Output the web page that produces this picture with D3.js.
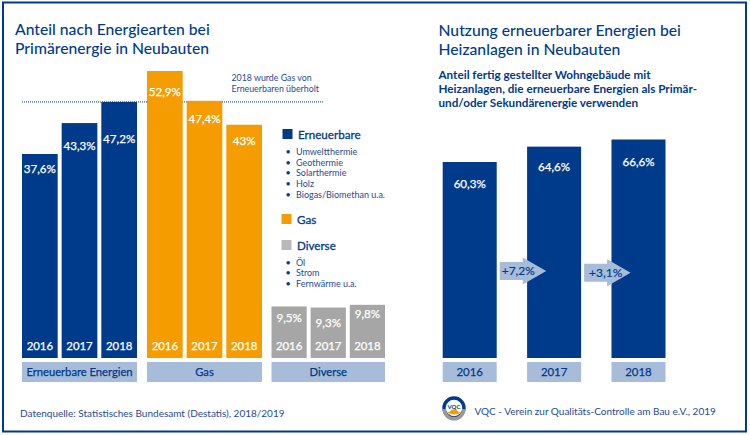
<!DOCTYPE html>
<html>
<head>
<meta charset="utf-8">
<style>
  html, body { margin: 0; padding: 0; background: #fff; }
  svg { display: block; font-family: Lato, sans-serif; }
</style>
</head>
<body>
<div id="chartContainer"></div>
<script src="https://d3js.org/d3.v7.min.js"></script>
<script>
// Data
var years = ["2016", "2017", "2018"];
var erneuerbareValues = [37.6, 43.3, 47.2];
var gasValues = [52.9, 47.4, 43];
var diverseValues = [9.5, 9.3, 9.8];
var groupNames = ["Erneuerbare Energien", "Gas", "Diverse"];
var heizungValues = [60.3, 64.6, 66.6];
var heizungChanges = ["+7,2%", "+3,1%"];
var erneuerbareItems = ["Umweltthermie", "Geothermie", "Solarthermie", "Holz", "Biogas/Biomethan u.a."];
var diverseItems = ["Öl", "Strom", "Fernwärme u.a."];

var blue = "#003a8a", orange = "#f59c00", grey = "#a6a6a6", pale = "#a7bcd9", textBlue = "#1f4a92";

var svg = d3.select("#chartContainer").append("svg").attr("width", 750).attr("height", 435);

// outer frame
svg.append("rect").attr("x", 3).attr("y", 2.5).attr("width", 743).attr("height", 429)
  .attr("fill", "#fff").attr("stroke", blue).attr("stroke-width", 2);

// Lato has no medium cut, so a hairline stroke stands in for it
function medium(sel, color, width) {
  return sel.attr("fill", color).attr("stroke", color).attr("stroke-width", width || 0.25);
}

function addLines(lines, x, y, step, size, color, weight) {
  lines.forEach(function (t, i) {
    svg.append("text").attr("x", x).attr("y", y + i * step)
      .attr("font-size", size).attr("fill", color).attr("font-weight", weight || 400).text(t);
  });
}

// headings
addLines(["Anteil nach Energiearten bei", "Primärenergie in Neubauten"], 15, 35, 18.5, 15.7, blue, 500);
addLines(["Nutzung erneuerbarer Energien bei", "Heizanlagen in Neubauten"], 438.5, 36, 18.5, 15.7, blue, 500);
addLines(["Anteil fertig gestellter Wohngebäude mit", "Heizanlagen, die erneuerbare Energien als Primär-", "und/oder Sekundärenergie verwenden"],
  438.5, 79, 14, 11.7, blue, 700);

// left chart scales
var yLeft = d3.scaleLinear().domain([0, 52.9]).range([358, 71]);

// labelDrop: how far each value label hangs below the top of its bar
var groups = [
  { name: groupNames[0], values: erneuerbareValues, color: blue, x0: 22, x1: 137, labelDrop: [19, 27, 41] },
  { name: groupNames[1], values: gasValues, color: orange, x0: 147, x1: 262, labelDrop: [25, 22.5, 20] },
  { name: groupNames[2], values: diverseValues, color: grey, x0: 271.5, x1: 385, labelDrop: [16, 19, 13] }
];

// dotted line behind the bars
svg.append("line").attr("x1", 22).attr("x2", 324).attr("y1", yLeft(47.2)).attr("y2", yLeft(47.2))
  .attr("stroke", blue).attr("stroke-width", 1).attr("stroke-dasharray", "1 1");

addLines(["2018 wurde Gas von", "Erneuerbaren überholt"], 231.5, 81, 11, 8.8, textBlue);

groups.forEach(function (g) {
  var x = d3.scaleBand().domain(years).range([g.x0, g.x1]).paddingInner(0.1);
  var data = years.map(function (y, i) { return { year: y, value: g.values[i], drop: g.labelDrop[i] }; });
  var bar = svg.append("g").selectAll("g").data(data).enter().append("g");

  bar.append("rect")
    .attr("x", function (d) { return x(d.year); })
    .attr("y", function (d) { return yLeft(d.value); })
    .attr("width", x.bandwidth())
    .attr("height", function (d) { return yLeft(0) - yLeft(d.value); })
    .attr("fill", g.color);

  bar.append("text")
    .attr("x", function (d) { return x(d.year) + x.bandwidth() / 2; })
    .attr("y", function (d) { return yLeft(d.value) + d.drop; })
    .attr("text-anchor", "middle").attr("font-size", 11.6).call(medium, "#fff")
    .text(function (d) { return String(d.value).replace(".", ",") + "%"; });

  bar.append("text")
    .attr("x", function (d) { return x(d.year) + x.bandwidth() / 2; })
    .attr("y", 349.5)
    .attr("text-anchor", "middle").attr("font-size", 11.4).call(medium, "#fff")
    .text(function (d) { return d.year; });

  svg.append("rect").attr("x", g.x0).attr("y", 362).attr("width", g.x1 - g.x0).attr("height", 20).attr("fill", pale);
  svg.append("text").attr("x", (g.x0 + g.x1) / 2).attr("y", 375.5).attr("text-anchor", "middle")
    .attr("font-size", 11.2).call(medium, blue).text(g.name);
});

// legend
function legendEntry(label, color, x, y) {
  svg.append("rect").attr("x", x).attr("y", y).attr("width", 10).attr("height", 10).attr("fill", color);
  svg.append("text").attr("x", x + 15.5).attr("y", y + 9.5).attr("font-size", 11.6).call(medium, blue, 0.3).text(label);
}
function legendList(items, y) {
  items.forEach(function (t, i) {
    svg.append("text").attr("x", 285.5).attr("y", y + i * 10.7).attr("font-size", 9).attr("fill", blue).text("•");
    svg.append("text").attr("x", 296).attr("y", y + i * 10.7).attr("font-size", 9).attr("fill", textBlue).text(t);
  });
}
legendEntry("Erneuerbare", blue, 282.5, 129);
legendList(erneuerbareItems, 155);
legendEntry("Gas", orange, 281.5, 214);
legendEntry("Diverse", "#b9b9b9", 281.5, 240);
legendList(diverseItems, 265.5);

addLines(["Datenquelle: Statistisches Bundesamt (Destatis), 2018/2019"], 20, 417, 0, 10, textBlue);

// right chart
var xRight = d3.scaleBand().domain(years).range([442.7, 665.5]).paddingInner(0.36);
var yRight = d3.scaleLinear().domain([5.4, 66.6]).range([358, 139.5]);

var rightData = years.map(function (y, i) { return { year: y, value: heizungValues[i] }; });
var rightBar = svg.append("g").selectAll("g").data(rightData).enter().append("g");

rightBar.append("rect")
  .attr("x", function (d) { return xRight(d.year); })
  .attr("y", function (d) { return yRight(d.value); })
  .attr("width", xRight.bandwidth())
  .attr("height", function (d) { return yRight.range()[0] - yRight(d.value); })
  .attr("fill", blue);

rightBar.append("text")
  .attr("x", function (d) { return xRight(d.year) + xRight.bandwidth() / 2; })
  .attr("y", function (d, i) { return yRight(d.value) + [26, 24, 26][i]; })
  .attr("text-anchor", "middle").attr("font-size", 11.6).call(medium, "#fff")
  .text(function (d) { return String(d.value).replace(".", ",") + "%"; });

rightBar.append("rect")
  .attr("x", function (d) { return xRight(d.year); })
  .attr("y", 362).attr("width", xRight.bandwidth()).attr("height", 20).attr("fill", pale);

rightBar.append("text")
  .attr("x", function (d) { return xRight(d.year) + xRight.bandwidth() / 2; })
  .attr("y", 375.5).attr("text-anchor", "middle")
  .attr("font-size", 11.4).call(medium, blue)
  .text(function (d) { return d.year; });

// change arrows sit on the gap between two bars and overlap the next bar
heizungChanges.forEach(function (label, i) {
  var left = xRight(years[i]) + xRight.bandwidth() + 3;
  var cy = 271 + i * 1.7;
  var neck = left + 23, tip = left + 46.5;
  var path = d3.path();
  path.moveTo(left, cy - 9);
  path.lineTo(neck, cy - 9);
  path.lineTo(neck, cy - 13.5);
  path.lineTo(tip, cy);
  path.lineTo(neck, cy + 13.5);
  path.lineTo(neck, cy + 9);
  path.lineTo(left, cy + 9);
  path.closePath();
  svg.append("path").attr("d", path.toString()).attr("fill", pale);
  svg.append("text").attr("x", left + 2 + i * 3).attr("y", cy + 4).attr("font-size", 12)
    .call(medium, blue, 0.15).text(label);
});

// VQC logo
var logo = svg.append("g").attr("transform", "translate(454,408)");
logo.append("circle").attr("r", 10).attr("fill", "#fff").attr("stroke", blue).attr("stroke-width", 3.4);
logo.append("path").attr("d", "M-11.5,1 A11.5,11.5 0 0 0 11.5,1 L8,1 A8,8 0 0 1 -8,1 Z").attr("fill", "#9a9a9a");
logo.append("path").attr("d", "M-7,4.5 Q-3,3.5 -2.5,1.5 L2.5,1.5 Q3,3.5 7,4.5 Q0,8.5 -7,4.5 Z").attr("fill", orange);
logo.append("text").attr("y", 0.5).attr("text-anchor", "middle").attr("font-size", 6).attr("font-weight", 700)
  .attr("fill", blue).text("VQC");

addLines(["VQC - Verein zur Qualitäts-Controlle am Bau e.V., 2019"], 474.5, 415, 0, 10, textBlue);
</script>
</body>
</html>
